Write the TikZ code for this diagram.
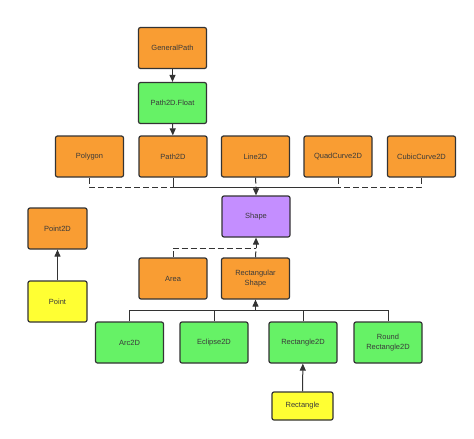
\documentclass[tikz,border=0pt]{standalone}
\usepackage{fontspec}
\setmainfont{Liberation Sans}
\usetikzlibrary{arrows.meta}
\definecolor{corange}{HTML}{F99D33}
\definecolor{cgreen}{HTML}{66F266}
\definecolor{cyellow}{HTML}{FFFF33}
\definecolor{cpurple}{HTML}{C48EFF}
\definecolor{cline}{HTML}{333333}
\definecolor{ctext}{HTML}{3A3A3A}
\begin{document}
\begin{tikzpicture}[x=1pt,y=-1pt,
  box/.style={draw=cline,line width=1.2pt,rounded corners=2pt,minimum width=68pt,minimum height=41pt,inner sep=1pt,align=center,font=\fontsize{7.5}{9.5}\selectfont,text=ctext},
  obox/.style={box,fill=corange},
  gbox/.style={box,fill=cgreen},
  ybox/.style={box,fill=cyellow},
  pbox/.style={box,fill=cpurple},
  conn/.style={draw=cline,line width=1pt},
  dconn/.style={conn,dashed,dash pattern=on 6pt off 3pt},
  tip/.style={-{Triangle[length=7pt,width=6pt]}}]
\useasboundingbox (0,0) rectangle (474,439);
\node[obox] (gp) at (172.5,48) {GeneralPath};
\node[gbox] (pf) at (172.5,103) {Path2D.Float};
\node[obox] (poly) at (89.5,156.5) {Polygon};
\node[obox] (p2d) at (173,156.5) {Path2D};
\node[obox] (l2d) at (255.5,156.5) {Line2D};
\node[obox] (qc) at (338,156.5) {QuadCurve2D};
\node[obox] (cc) at (421.5,156.5) {CubicCurve2D};
\node[pbox] (shape) at (256,216.5) {Shape};
\node[obox,minimum width=59pt] (p2) at (57.5,228.5) {Point2D};
\node[ybox,minimum width=59pt] (pt) at (57.5,301.5) {Point};
\node[obox] (area) at (173,278.5) {Area};
\node[obox] (rs) at (255.5,278.5) {Rectangular\\[1pt]Shape};
\node[gbox] (arc) at (129.5,342.5) {Arc2D};
\node[gbox] (ecl) at (214,342.5) {Eclipse2D};
\node[gbox] (r2d) at (303,342.5) {Rectangle2D};
\node[gbox] (rr) at (388,342.5) {Round\\Rectangle2D};
\node[ybox,minimum width=61pt,minimum height=28pt] (rect) at (302.5,406) {Rectangle};
\coordinate (bus1) at (256,187);
\coordinate (bus2) at (256,248);
\coordinate (bus3) at (255.5,310);
% top chain
\draw[conn,tip] (gp) -- (pf);
\draw[conn,tip] (pf) -- (p2d);
% row to Shape
\draw[dconn] (poly.south) |- (bus1);
\draw[dconn] (cc.south) |- (bus1);
\draw[dconn] (qc.south) |- (bus1);
\draw[dconn] (l2d.south) -- (bus1);
\draw[conn] (p2d.south) |- (bus1);
\draw[conn,tip] (bus1) -- (shape.north);
% Area / RectangularShape to Shape
\draw[dconn] (area.north) |- (bus2);
\draw[dconn] (rs.north) -- (bus2);
\draw[dconn,tip] (bus2) -- (shape.south);
% Point
\draw[conn,tip] (pt) -- (p2);
% bottom row
\draw[conn] (arc.north) |- (bus3);
\draw[conn] (ecl.north) |- (bus3);
\draw[conn] (r2d.north) |- (bus3);
\draw[conn] (rr.north) |- (bus3);
\draw[conn,tip] (bus3) -- (rs.south);
\draw[conn,tip] (rect) -- (r2d);
\end{tikzpicture}
\end{document}
